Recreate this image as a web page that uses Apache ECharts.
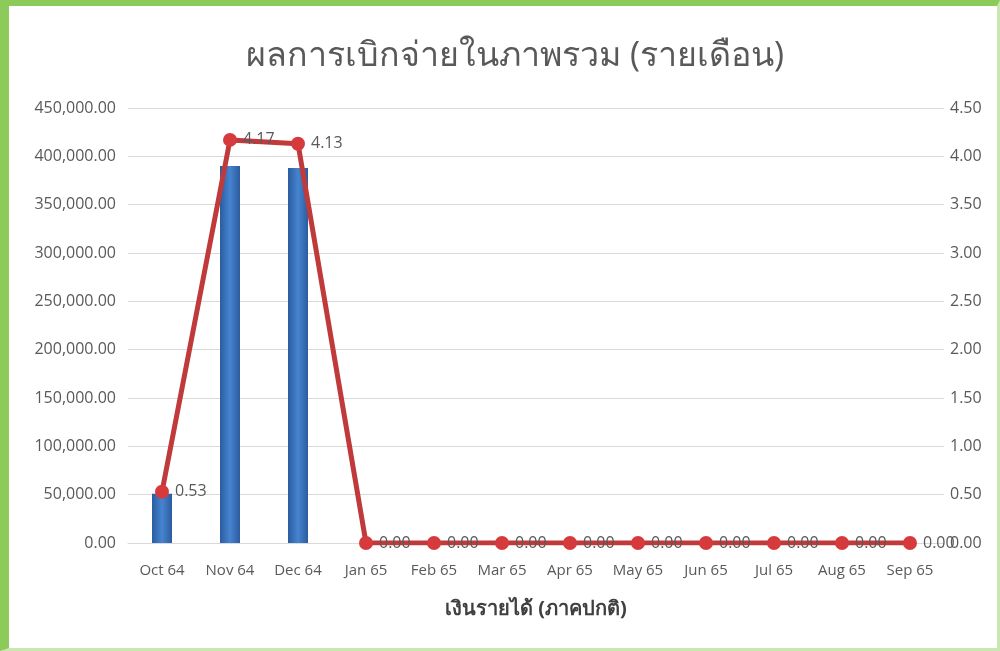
<!DOCTYPE html>
<html>
<head>
<meta charset="utf-8">
<script src="https://cdn.jsdelivr.net/npm/echarts@6/dist/echarts.min.js"></script>
<style>
html,body{margin:0;padding:0;background:#fff;}
#frame{position:absolute;left:0;top:0;width:1000px;height:651px;box-sizing:border-box;border-left:9px solid #8CCB5A;border-top:6px solid #8CCB5A;border-right:3px solid #c8e8b0;border-bottom:3px solid #c8e8b0;}
#chart{position:absolute;left:0;top:0;width:1000px;height:651px;}
</style>
</head>
<body>
<div id="frame"></div>
<div id="chart"></div>
<script>
const categories = ['Oct 64','Nov 64','Dec 64','Jan 65','Feb 65','Mar 65','Apr 65','May 65','Jun 65','Jul 65','Aug 65','Sep 65'];
const amounts = [51000, 390000, 388000, 0, 0, 0, 0, 0, 0, 0, 0, 0];
const ratios = [0.53, 4.17, 4.13, 0, 0, 0, 0, 0, 0, 0, 0, 0];
const titleText = 'ผลการเบิกจ่ายในภาพรวม (รายเดือน)';
const xAxisName = 'เงินรายได้ (ภาคปกติ)';

const chart = echarts.init(document.getElementById('chart'));
const fontFam = '"Open Sans", "Noto Sans", sans-serif';
chart.setOption({
  animation: false,
  textStyle: {fontFamily: fontFam},
  title: {
    text: titleText, left: 510, textAlign: 'center', top: 34,
    textStyle: {fontSize: 34, fontWeight: 'normal', color: '#595959', fontFamily: fontFam}
  },
  grid: {left: 128, right: 56, top: 108, bottom: 108},
  xAxis: {
    type: 'category', data: categories,
    axisLine: {lineStyle: {color: '#D9D9D9'}},
    axisTick: {show: false},
    axisLabel: {color: '#595959', fontSize: 15, margin: 20},
    name: xAxisName, nameLocation: 'middle', nameGap: 56,
    nameTextStyle: {fontSize: 20, fontWeight: 'bold', color: '#404040'}
  },
  yAxis: [
    {
      type: 'value', min: 0, max: 450000, interval: 50000,
      axisLine: {show: false}, axisTick: {show: false},
      splitLine: {lineStyle: {color: '#D9D9D9'}},
      axisLabel: {color: '#595959', fontSize: 16, margin: 12,
        formatter: v => v.toLocaleString('en-US', {minimumFractionDigits: 2, maximumFractionDigits: 2})}
    },
    {
      type: 'value', min: 0, max: 4.5, interval: 0.5,
      axisLine: {show: false}, axisTick: {show: false},
      splitLine: {show: false},
      axisLabel: {color: '#595959', fontSize: 16, margin: 6, formatter: v => v.toFixed(2)}
    }
  ],
  series: [
    {
      type: 'bar', data: amounts, yAxisIndex: 0, barWidth: 20,
      itemStyle: {
        color: new echarts.graphic.LinearGradient(0, 0, 1, 0, [
          {offset: 0, color: '#2B5C9E'},
          {offset: 0.5, color: '#4684D0'},
          {offset: 1, color: '#2B5C9E'}
        ])
      }
    },
    {
      type: 'line', data: ratios, yAxisIndex: 1,
      symbol: 'circle', symbolSize: 14,
      lineStyle: {color: '#C0393B', width: 5},
      itemStyle: {color: '#D63A3C'},
      label: {show: true, position: 'right', distance: 6, color: '#595959', fontSize: 16,
        formatter: p => p.value.toFixed(2)}
    }
  ]
});
</script>
</body>
</html>
